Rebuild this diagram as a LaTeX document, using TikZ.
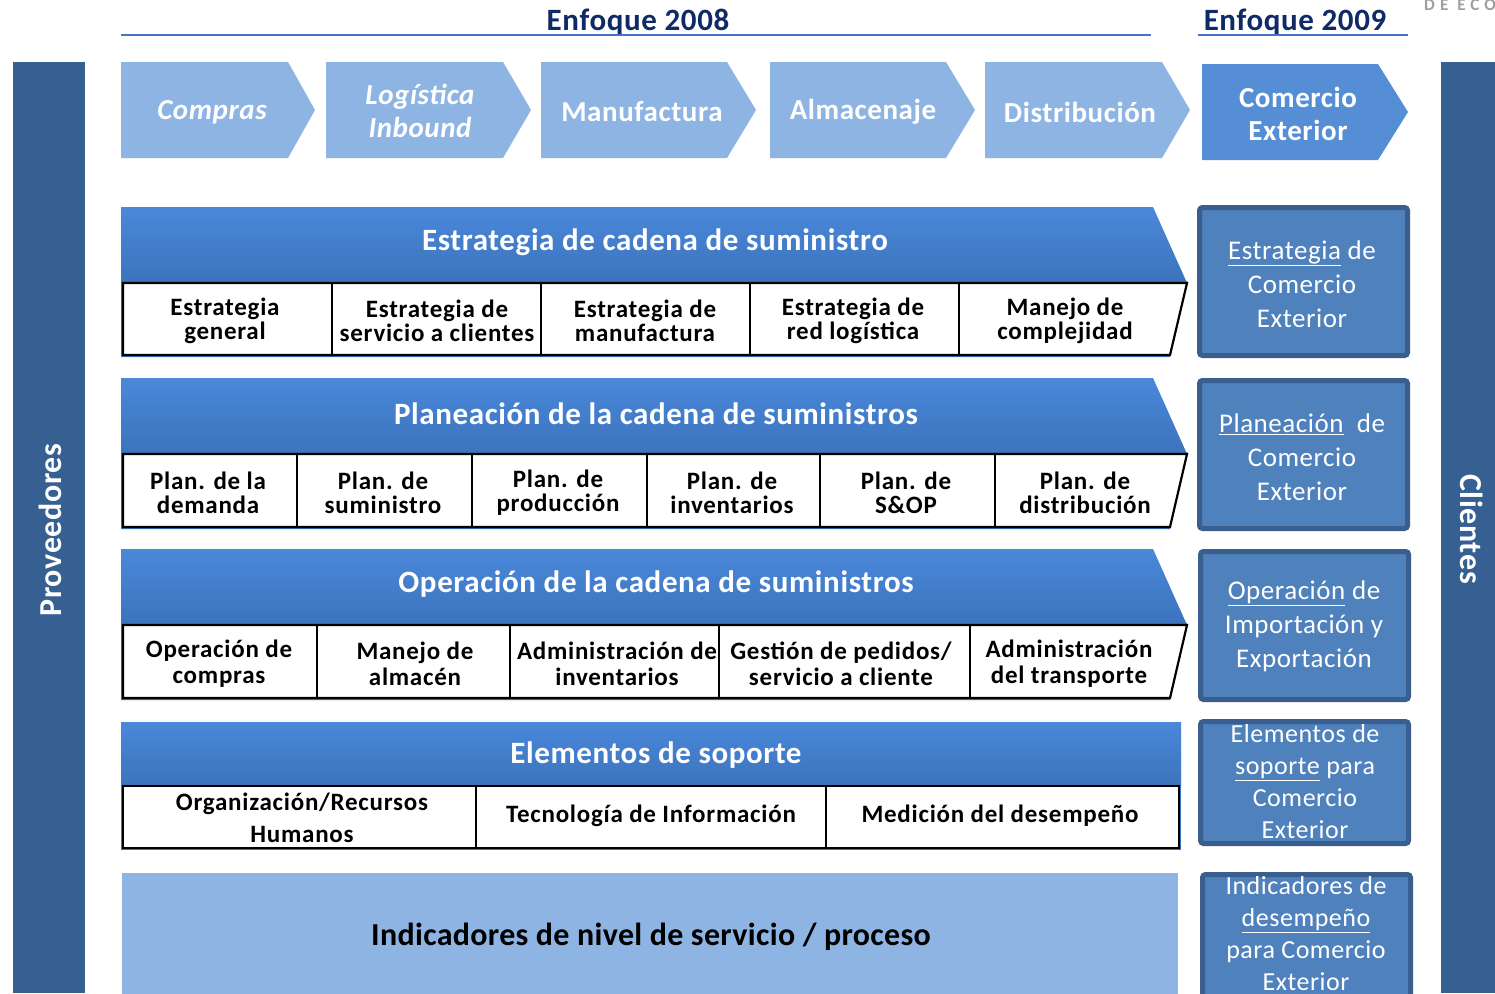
\documentclass[tikz,border=0pt]{standalone}
\usepackage{fontspec}
\setmainfont{Carlito}
\definecolor{sideblue}{HTML}{376092}
\definecolor{lightchev}{HTML}{8EB4E3}
\definecolor{darkchev}{HTML}{558ED5}
\definecolor{hdrtop}{HTML}{4A88DA}
\definecolor{hdrbot}{HTML}{3C73BC}
\definecolor{boxfill}{HTML}{4F81BD}
\definecolor{boxedge}{HTML}{3A5F8E}
\definecolor{navy}{HTML}{0F2A66}
\definecolor{ruleblue}{HTML}{4472C4}
\begin{document}
\begin{tikzpicture}[x=1pt,y=-1pt,
  chevlight/.style={fill=lightchev},
  chevdark/.style={fill=darkchev},
  chevtext/.style={text=white,align=center,font=\fontsize{29}{33}\selectfont\bfseries\addfontfeature{LetterSpace=2}},
  toptitle/.style={text=navy,font=\fontsize{31}{33}\selectfont\bfseries\addfontfeature{LetterSpace=2}},
  hdrshade/.style={top color=hdrtop,bottom color=hdrbot},
  hdrtext/.style={text=white,font=\fontsize{31}{32}\selectfont\bfseries\addfontfeature{LetterSpace=2}},
  cellline/.style={draw=black,line width=2.2pt},
  celltext/.style={align=center,font=\fontsize{25}{24}\selectfont\bfseries\addfontfeature{LetterSpace=3}},
  celltextb/.style={align=center,font=\fontsize{25}{26}\selectfont\bfseries\addfontfeature{LetterSpace=3}},
  rbox/.style={fill=boxfill,draw=boxedge,line width=5pt,rounded corners=3pt},
  rtext/.style={text=white,align=center,font=\fontsize{27}{34}\selectfont\addfontfeature{LetterSpace=2}},
  rtextb/.style={text=white,align=center,font=\fontsize{26}{32}\selectfont\addfontfeature{LetterSpace=2}},
  sidetext/.style={text=white,font=\fontsize{32}{34}\selectfont\bfseries\addfontfeature{LetterSpace=2}}]
\useasboundingbox[fill=white] (0,0) rectangle (1495,993);

% logo fragment
\node[anchor=west,text=gray!75,inner sep=0pt,font=\fontsize{17}{18}\selectfont\bfseries\addfontfeature{LetterSpace=30}] (logo) at (1424,5) {DE ECO};

% titles
\node[toptitle] (t2008) at (638,22) {Enfoque 2008};
\node[toptitle] (t2009) at (1295,22) {Enfoque 2009};
\draw[ruleblue,line width=2pt] (121,35) -- (1151,35);
\draw[ruleblue,line width=2pt] (1198,35) -- (1408,35);

% side bars
\fill[sideblue] (13,62) rectangle (85,993);
\fill[sideblue] (1441,62) rectangle (1495,993);
\node[sidetext,rotate=90] (prov) at (50,530) {Proveedores};
\node[sidetext,rotate=-90] (cli) at (1472,529) {Clientes};

% chevrons
\fill[chevlight] (121,62) -- (288,62) -- (315,110) -- (288,158) -- (121,158) -- cycle;
\fill[chevlight] (326,62) -- (503,62) -- (531,110) -- (503,158) -- (326,158) -- cycle;
\fill[chevlight] (541,62) -- (727,62) -- (756,110) -- (727,158) -- (541,158) -- cycle;
\fill[chevlight] (770,62) -- (946,62) -- (975,110) -- (946,158) -- (770,158) -- cycle;
\fill[chevlight] (985,62) -- (1162,62) -- (1190,110) -- (1162,158) -- (985,158) -- cycle;
\fill[chevdark] (1202,64) -- (1378,64) -- (1408,112) -- (1378,160) -- (1202,160) -- cycle;
\node[chevtext] (ch1) at (212,112) {\itshape Compras};
\node[chevtext] (ch2) at (420,111) {\itshape Logística\\\itshape Inbound};
\node[chevtext] (ch3) at (642,112) {Manufactura};
\node[chevtext] (ch4) at (863,112) {Almacenaje};
\node[chevtext] (ch5) at (1080,112) {Distribución};
\node[chevtext] (ch6) at (1298,114) {Comercio\\Exterior};

% band 1
\path[hdrshade] (121,207) -- (1153,207) -- (1187,283) -- (121,283) -- cycle;
\fill[hdrbot] (121,281) -- (1187,281) -- (1170,357) -- (121,357) -- cycle;
\draw[cellline,fill=white] (123,283) -- (1187,283) -- (1170,355) -- (123,355) -- cycle;
\foreach \x in {332,541,750,959} \draw[cellline] (\x,283) -- (\x,355);
\node[hdrtext] (h1) at (655,242) {Estrategia de cadena de suministro};
\node[celltext] (c11) at (225,321) {Estrategia\\general};
\node[celltext] (c12) at (437,321) {Estrategia de\\servicio a clientes};
\node[celltext] (c13) at (645,321) {Estrategia de\\manufactura};
\node[celltext] (c14) at (853,321) {Estrategia de\\red logística};
\node[celltext] (c15) at (1065,321) {Manejo de\\complejidad};

% band 2
\path[hdrshade] (121,378) -- (1153,378) -- (1187,454) -- (121,454) -- cycle;
\fill[hdrbot] (121,452) -- (1187,452) -- (1170,529) -- (121,529) -- cycle;
\draw[cellline,fill=white] (123,454) -- (1187,454) -- (1170,527) -- (123,527) -- cycle;
\foreach \x in {297,472,647,820,995} \draw[cellline] (\x,454) -- (\x,527);
\node[hdrtext] (h2) at (656,414) {Planeación de la cadena de suministros};
\node[celltext] (c21) at (208,493) {Plan. de la\\demanda};
\node[celltext] (c22) at (383,493) {Plan. de\\suministro};
\node[celltext] (c23) at (558,493) {Plan. de\\producción};
\node[celltext] (c24) at (732,493) {Plan. de\\inventarios};
\node[celltext] (c25) at (906,493) {Plan. de\\S\&OP};
\node[celltext] (c26) at (1085,493) {Plan. de\\distribución};

% band 3
\path[hdrshade] (121,549) -- (1153,549) -- (1187,625) -- (121,625) -- cycle;
\fill[hdrbot] (121,623) -- (1187,623) -- (1170,700) -- (121,700) -- cycle;
\draw[cellline,fill=white] (123,625) -- (1187,625) -- (1170,698) -- (123,698) -- cycle;
\foreach \x in {317,510,719,970} \draw[cellline] (\x,625) -- (\x,698);
\node[hdrtext] (h3) at (656,584) {Operación de la cadena de suministros};
\node[celltextb] (c31) at (219,664) {Operación de\\compras};
\node[celltextb] (c32) at (415,664) {Manejo de\\almacén};
\node[celltextb] (c33) at (617,664) {Administración de\\inventarios};
\node[celltextb] (c34) at (841,664) {Gestión de pedidos/\\servicio a cliente};
\node[celltextb] (c35) at (1069,664) {Administración\\del transporte};

% band 4
\path[hdrshade] (121,722) rectangle (1181,786);
\fill[hdrbot] (121,784) rectangle (1181,850);
\draw[cellline,fill=white] (123,786) rectangle (1179,848);
\foreach \x in {476,826} \draw[cellline] (\x,786) -- (\x,848);
\node[hdrtext] (h4) at (656,755) {Elementos de soporte};
\node[align=center,font=\fontsize{25}{32}\selectfont\bfseries\addfontfeature{LetterSpace=3}] (c41) at (302,818) {Organización/Recursos\\Humanos};
\node[celltext] (c42) at (651,816) {Tecnología de Información};
\node[celltext] (c43) at (1000,816) {Medición del desempeño};

% band 5
\fill[lightchev] (122,873) rectangle (1178,996);
\node[font=\fontsize{32}{34}\selectfont\bfseries\addfontfeature{LetterSpace=1}] (ind) at (651,937) {Indicadores de nivel de servicio / proceso};

% right column
\draw[rbox] (1199.5,207.5) rectangle (1407.5,355.5);
\draw[rbox] (1199.5,380.5) rectangle (1407.5,528.5);
\draw[rbox] (1200.5,551.5) rectangle (1408.5,699.5);
\draw[rbox] (1200.5,721.5) rectangle (1408.5,843.5);
\draw[rbox] (1202.5,874.5) rectangle (1410.5,1003);
\node[rtext] (r1) at (1302,284) {\underline{Estrategia} de\\Comercio\\Exterior};
\node[rtext] (r2) at (1302,457) {\underline{Planeación}\ \ de\\Comercio\\Exterior};
\node[rtext] (r3) at (1304,626) {\underline{Operación} de\\Importación y\\Exportación};
\node[rtextb] (r4) at (1305,782) {Elementos de\\\underline{soporte} para\\Comercio\\Exterior};
\node[rtextb] (r5) at (1306,934) {Indicadores de\\\underline{desempeño}\\para Comercio\\Exterior};
\end{tikzpicture}
\end{document}
